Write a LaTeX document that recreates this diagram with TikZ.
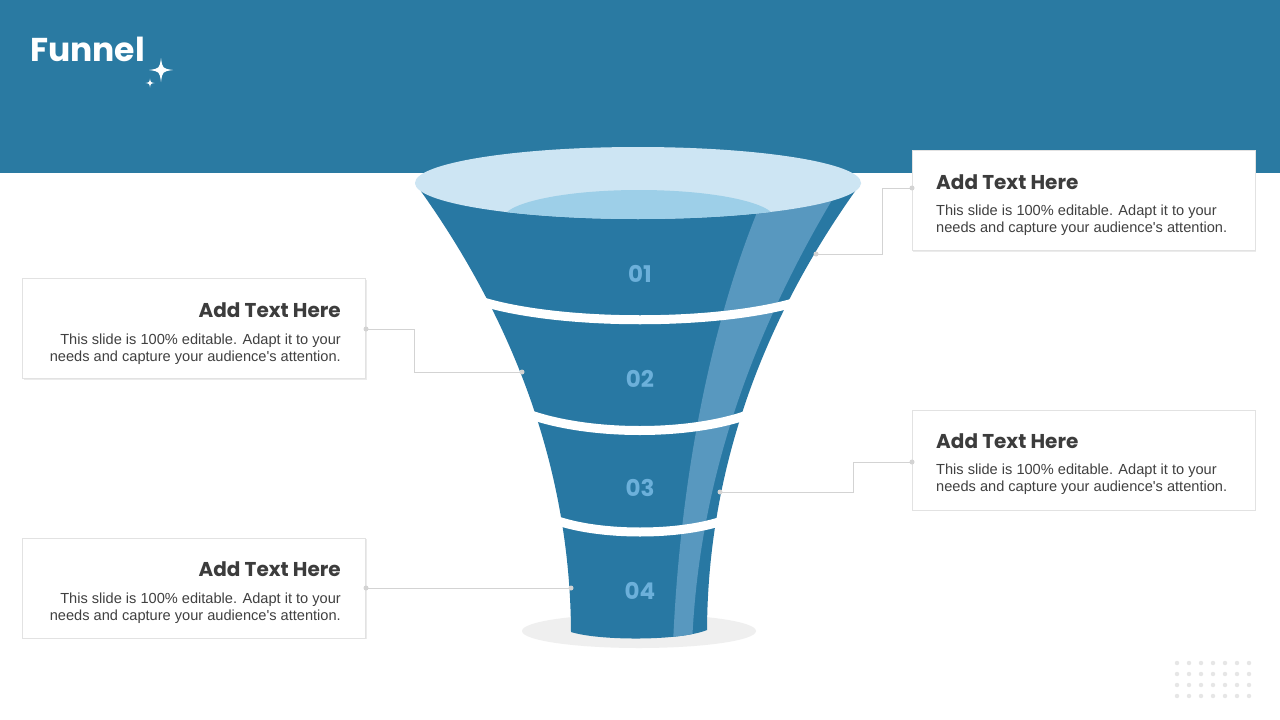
\documentclass[tikz,border=0pt]{standalone}
\usepackage{fontspec}
\setmainfont{Liberation Sans}[Ligatures=TeXOff]
\newfontfamily\poppins{Poppins}
\usetikzlibrary{shadows}
\definecolor{hdr}{HTML}{2A7AA2}
\definecolor{fun}{HTML}{2878A3}
\definecolor{stripec}{HTML}{5898BF}
\definecolor{topc}{HTML}{CDE5F3}
\definecolor{innerc}{HTML}{9DCFE8}
\definecolor{numc}{HTML}{6CB0DA}
\definecolor{shadowc}{HTML}{EFEFEF}
\definecolor{connc}{HTML}{D3D3D3}
\definecolor{boxline}{HTML}{E2E2E2}
\definecolor{headc}{HTML}{3C3C3C}
\definecolor{bodyc}{HTML}{404040}
\definecolor{gridc}{HTML}{E6E6E6}
\tikzset{
  txtbox/.style={draw=boxline, fill=white, line width=0.8, inner sep=0,
    minimum width=343, minimum height=100,
    general shadow={fill=black!8, shadow xshift=1pt, shadow yshift=-1.2pt}},
  heading/.style={inner sep=0, text=headc, font=\poppins\bfseries\fontsize{20}{24}\selectfont},
  bodytxt/.style={inner sep=0, text=bodyc, font=\fontsize{14.6}{17}\selectfont},
  numlabel/.style={inner sep=0, text=numc, font=\poppins\bfseries\fontsize{23}{26}\selectfont},
  conn/.style={draw=connc, line width=1},
  conndot/.style={fill=connc},
  band/.style={draw=white, line width=9}
}
\begin{document}
\begin{tikzpicture}[x=1pt,y=-1pt]
\useasboundingbox (0,0) rectangle (1280,720);
\fill[white] (0,0) rectangle (1280,720);
% header
\fill[hdr] (0,0) rectangle (1280,173);
% title and sparkles
\node[anchor=base west, inner sep=0, text=white, font=\poppins\bfseries\fontsize{33}{38}\selectfont] (title) at (30,61) {Funnel};
\begin{scope}[shift={(161,70)}]
\fill[white] (0,-12) .. controls (1.5,-1.5) .. (12,0) .. controls (1.5,1.5) .. (0,12) .. controls (-1.5,1.5) .. (-12,0) .. controls (-1.5,-1.5) .. (0,-12) -- cycle;
\end{scope}
\begin{scope}[shift={(150,83)}]
\fill[white] (0,-4.5) .. controls (0.6,-0.6) .. (4.5,0) .. controls (0.6,0.6) .. (0,4.5) .. controls (-0.6,0.6) .. (-4.5,0) .. controls (-0.6,-0.6) .. (0,-4.5) -- cycle;
\end{scope}
% shadow under funnel
\fill[shadowc] (639,631) ellipse [x radius=117, y radius=17];
% funnel body
\fill[fun] (415,183) .. controls (500,300) and (570,450) .. (571,632)
  .. controls (600,641) and (680,641) .. (707,630)
  .. controls (708,450) and (776,300) .. (861,183) -- cycle;
% highlight stripe
\begin{scope}
\clip (415,183) .. controls (500,300) and (570,450) .. (571,632)
  .. controls (600,641) and (680,641) .. (707,630)
  .. controls (708,450) and (776,300) .. (861,183) -- cycle;
\fill[stripec] (673,645) .. controls (678,520) and (700,350) .. (760,205)
  -- (835,195) .. controls (730,370) and (697,520) .. (692,645) -- cycle;
\end{scope}
% white bands
\draw[band] (480,301) .. controls (560,326) and (720,326) .. (800,301);
\draw[band] (528,414) .. controls (590,436) and (690,436) .. (750,414);
\draw[band] (555,520) .. controls (600,536) and (680,536) .. (725,520);
% top ellipse
\fill[topc] (638,183) ellipse [x radius=223, y radius=36];
\begin{scope}
\clip (638,183) ellipse [x radius=223, y radius=36];
\fill[innerc] (639,219) ellipse [x radius=136, y radius=29];
\end{scope}
% numbers
\node[numlabel] (n1) at (640,274) {01};
\node[numlabel] (n2) at (640,379) {02};
\node[numlabel] (n3) at (640,488) {03};
\node[numlabel] (n4) at (640,591) {04};
% text boxes
\node[txtbox] (b1) at (1083.5,200.5) {};
\node[txtbox] (b2) at (194,328.5) {};
\node[txtbox] (b3) at (1083.5,460) {};
\node[txtbox] (b4) at (194,588) {};
% box texts
\node[heading, anchor=base west] (h1) at (936,189) {Add Text Here};
\node[bodytxt, anchor=north west, align=left] (t1) at (936,204.5) {This slide is 100\% editable. Adapt it to your\\needs and capture your audience's attention.};
\node[heading, anchor=base east] (h2) at (341,317) {Add Text Here};
\node[bodytxt, anchor=north east, align=right] (t2) at (341,333.5) {This slide is 100\% editable. Adapt it to your\\needs and capture your audience's attention.};
\node[heading, anchor=base west] (h3) at (936,448) {Add Text Here};
\node[bodytxt, anchor=north west, align=left] (t3) at (936,463.5) {This slide is 100\% editable. Adapt it to your\\needs and capture your audience's attention.};
\node[heading, anchor=base east] (h4) at (341,576) {Add Text Here};
\node[bodytxt, anchor=north east, align=right] (t4) at (341,592.5) {This slide is 100\% editable. Adapt it to your\\needs and capture your audience's attention.};
% connectors
\coordinate (c1s) at (912,188);
\coordinate (c1e) at (816,254);
\coordinate (c2s) at (366,329);
\coordinate (c2e) at (522,372);
\coordinate (c3s) at (912,462);
\coordinate (c3e) at (720,492);
\coordinate (c4s) at (366,588);
\coordinate (c4e) at (571,588);
\draw[conn] (c1s) -- (882,188) |- (c1e);
\draw[conn] (c2s) -- (414,329) |- (c2e);
\draw[conn] (c3s) -- (853,462) |- (c3e);
\draw[conn] (c4s) -- (c4e);
\foreach \p in {c1s,c1e,c2s,c2e,c3s,c3e,c4s,c4e}
  \fill[conndot] (\p) circle [radius=2.5];
% dot grid
\foreach \i in {0,...,6}
  \foreach \j in {0,...,3}
    \fill[gridc] (1177+12*\i,663+11*\j) circle [radius=2.2];
\end{tikzpicture}
\end{document}
